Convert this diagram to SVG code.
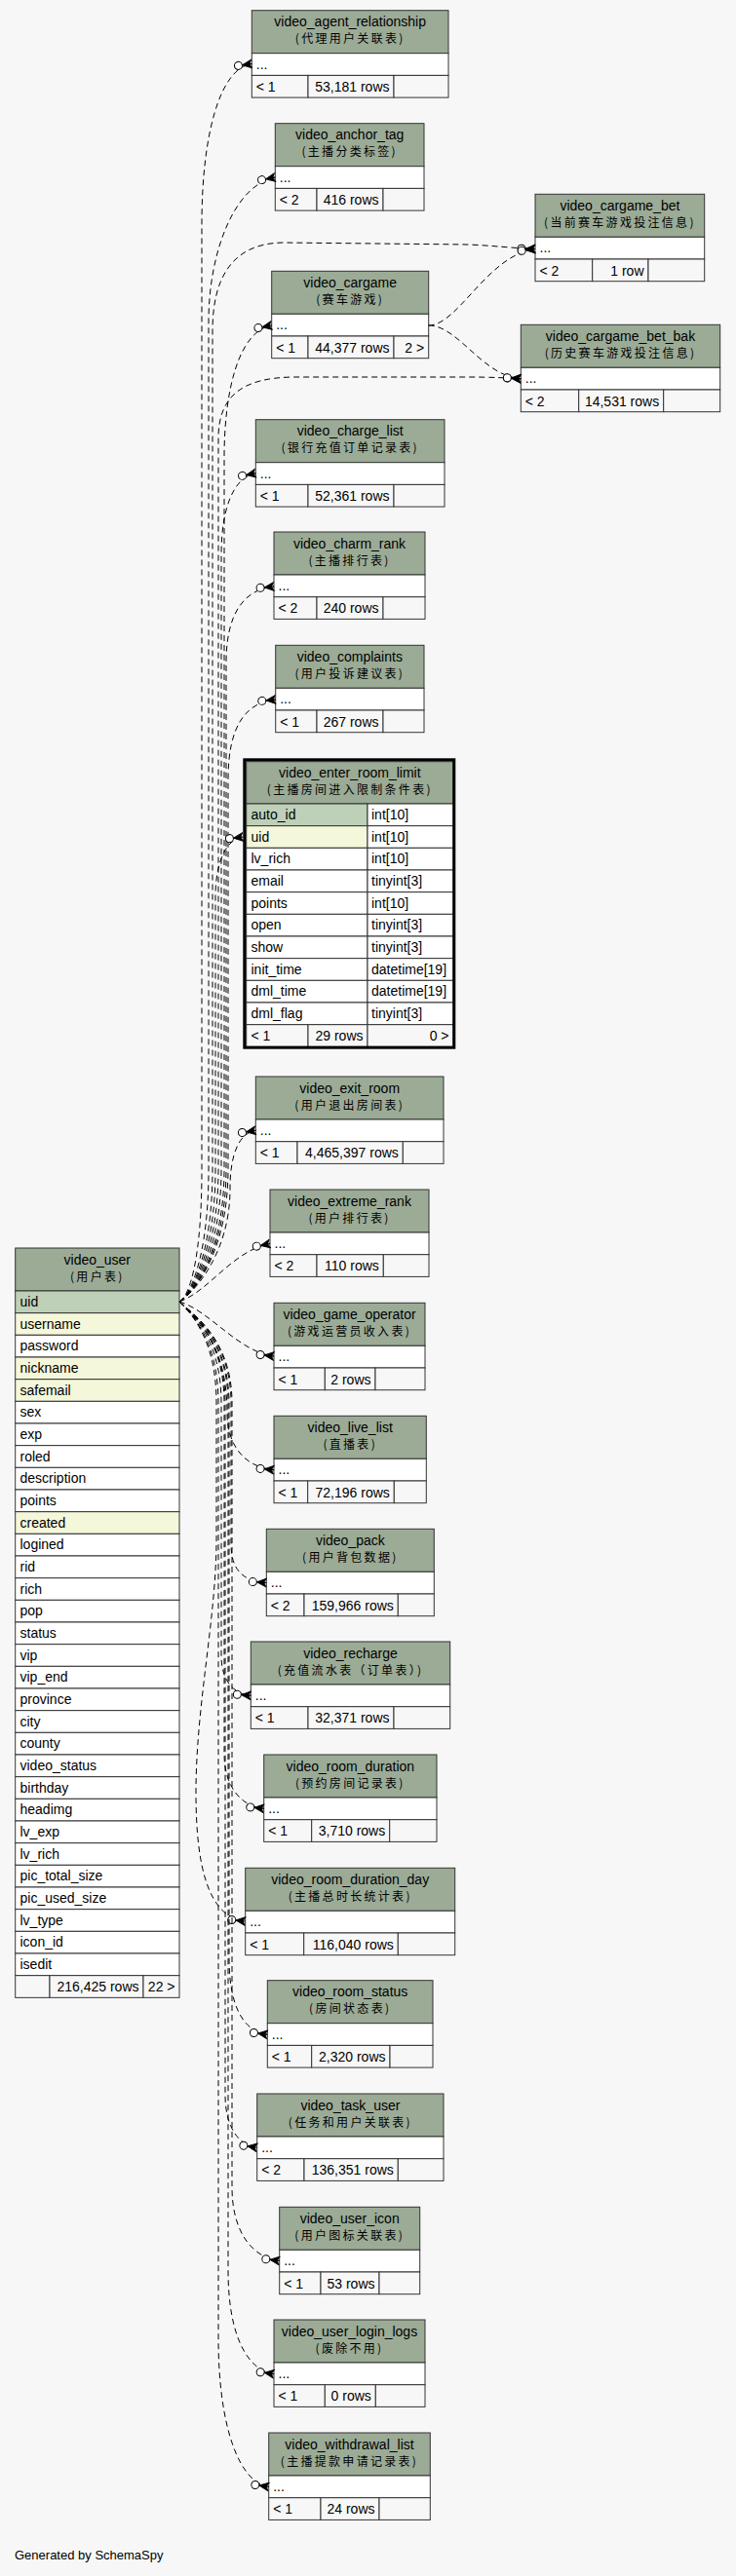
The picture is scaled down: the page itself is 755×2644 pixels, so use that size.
<svg xmlns="http://www.w3.org/2000/svg" width="755" height="2644" viewBox="0 0 755 2644">
<defs>
<style>
.bg{fill:#f7f7f7}
.hdr{fill:#9bab96;stroke:#333;stroke-width:1}
.cell{fill:#fff;stroke:#333;stroke-width:1}
.ft{fill:#f7f7f7;stroke:#333;stroke-width:1}
.pk{fill:#bed1b8;stroke:#333;stroke-width:1}
.ix{fill:#f4f7da;stroke:#333;stroke-width:1}
text{font-family:"Liberation Sans",Arial,sans-serif;font-size:14px;fill:#000}
.ttl{text-anchor:middle}
.cn{font-family:"Noto Sans CJK SC",sans-serif;font-size:12px;letter-spacing:2.3px;text-anchor:middle}
.rt{text-anchor:end}
.edge{fill:none;stroke:#000;stroke-width:1;stroke-dasharray:6,4}
.focus{fill:none;stroke:#000;stroke-width:3}
</style>
<marker id="crowodot" markerUnits="userSpaceOnUse" markerWidth="26" markerHeight="14" viewBox="-21 -7 26 14" refX="0" refY="0" orient="auto" overflow="visible">
<path d="M0,-4.5 L-10,0 L0,4.5 L-2.5,0 Z" fill="#000" stroke="#000" stroke-width="0.8"/>
<path d="M-10,0 L0,0" stroke="#000" stroke-width="1"/>
<circle cx="-14" cy="0" r="4" fill="#fff" stroke="#000" stroke-width="1"/>
</marker>
</defs>
<rect class="bg" x="0" y="0" width="755" height="2644"/>

<g id="video_agent_relationship">
<rect class="hdr" x="258.3" y="10.7" width="201.7" height="44"/>
<text class="ttl" x="359.2" y="27.2">video_agent_relationship</text>
<text class="cn" x="359.2" y="44.2">(代理用户关联表)</text>
<rect class="cell" x="258.3" y="54.7" width="201.7" height="22.7"/>
<text x="262.8" y="70.7">...</text>
<rect class="ft" x="258.3" y="77.4" width="57.7" height="22.7"/>
<rect class="ft" x="316" y="77.4" width="88" height="22.7"/>
<rect class="ft" x="404" y="77.4" width="56" height="22.7"/>
<text x="262.8" y="93.9">&lt; 1</text>
<text class="rt" x="399.5" y="93.9">53,181 rows</text>
</g>

<g id="video_anchor_tag">
<rect class="hdr" x="282.3" y="126.7" width="152.7" height="44"/>
<text class="ttl" x="358.7" y="143.2">video_anchor_tag</text>
<text class="cn" x="358.7" y="160.2">(主播分类标签)</text>
<rect class="cell" x="282.3" y="170.7" width="152.7" height="22.7"/>
<text x="286.8" y="186.7">...</text>
<rect class="ft" x="282.3" y="193.4" width="42.7" height="22.7"/>
<rect class="ft" x="325" y="193.4" width="68" height="22.7"/>
<rect class="ft" x="393" y="193.4" width="42" height="22.7"/>
<text x="286.8" y="209.9">&lt; 2</text>
<text class="rt" x="388.5" y="209.9">416 rows</text>
</g>

<g id="video_cargame_bet">
<rect class="hdr" x="549" y="199.3" width="173.7" height="44"/>
<text class="ttl" x="635.9" y="215.8">video_cargame_bet</text>
<text class="cn" x="635.9" y="232.8">(当前赛车游戏投注信息)</text>
<rect class="cell" x="549" y="243.3" width="173.7" height="22.7"/>
<text x="553.5" y="259.3">...</text>
<rect class="ft" x="549" y="266" width="58.7" height="22.7"/>
<rect class="ft" x="607.7" y="266" width="57.3" height="22.7"/>
<rect class="ft" x="665" y="266" width="57.7" height="22.7"/>
<text x="553.5" y="282.5">&lt; 2</text>
<text class="rt" x="660.5" y="282.5">1 row</text>
</g>

<g id="video_cargame_bet_bak">
<rect class="hdr" x="534.3" y="333.3" width="204.4" height="44"/>
<text class="ttl" x="636.5" y="349.8">video_cargame_bet_bak</text>
<text class="cn" x="636.5" y="366.8">(历史赛车游戏投注信息)</text>
<rect class="cell" x="534.3" y="377.3" width="204.4" height="22.7"/>
<text x="538.8" y="393.3">...</text>
<rect class="ft" x="534.3" y="400" width="59.4" height="22.7"/>
<rect class="ft" x="593.7" y="400" width="87" height="22.7"/>
<rect class="ft" x="680.7" y="400" width="58" height="22.7"/>
<text x="538.8" y="416.5">&lt; 2</text>
<text class="rt" x="676.2" y="416.5">14,531 rows</text>
</g>

<g id="video_cargame">
<rect class="hdr" x="278.7" y="278.3" width="161" height="44"/>
<text class="ttl" x="359.2" y="294.8">video_cargame</text>
<text class="cn" x="359.2" y="311.8">(赛车游戏)</text>
<rect class="cell" x="278.7" y="322.3" width="161" height="22.7"/>
<text x="283.2" y="338.3">...</text>
<rect class="ft" x="278.7" y="345" width="37.3" height="22.7"/>
<rect class="ft" x="316" y="345" width="88" height="22.7"/>
<rect class="ft" x="404" y="345" width="35.7" height="22.7"/>
<text x="283.2" y="361.5">&lt; 1</text>
<text class="rt" x="399.5" y="361.5">44,377 rows</text>
<text class="rt" x="435.2" y="361.5">2 &gt;</text>
</g>

<g id="video_charge_list">
<rect class="hdr" x="262.3" y="430.7" width="193.7" height="44"/>
<text class="ttl" x="359.2" y="447.2">video_charge_list</text>
<text class="cn" x="359.2" y="464.2">(银行充值订单记录表)</text>
<rect class="cell" x="262.3" y="474.7" width="193.7" height="22.7"/>
<text x="266.8" y="490.7">...</text>
<rect class="ft" x="262.3" y="497.4" width="53.7" height="22.7"/>
<rect class="ft" x="316" y="497.4" width="88" height="22.7"/>
<rect class="ft" x="404" y="497.4" width="52" height="22.7"/>
<text x="266.8" y="513.9">&lt; 1</text>
<text class="rt" x="399.5" y="513.9">52,361 rows</text>
</g>

<g id="video_charm_rank">
<rect class="hdr" x="281" y="546" width="155" height="44"/>
<text class="ttl" x="358.5" y="562.5">video_charm_rank</text>
<text class="cn" x="358.5" y="579.5">(主播排行表)</text>
<rect class="cell" x="281" y="590" width="155" height="22.7"/>
<text x="285.5" y="606">...</text>
<rect class="ft" x="281" y="612.7" width="44" height="22.7"/>
<rect class="ft" x="325" y="612.7" width="68" height="22.7"/>
<rect class="ft" x="393" y="612.7" width="43" height="22.7"/>
<text x="285.5" y="629.2">&lt; 2</text>
<text class="rt" x="388.5" y="629.2">240 rows</text>
</g>

<g id="video_complaints">
<rect class="hdr" x="282.7" y="662.3" width="152.3" height="44"/>
<text class="ttl" x="358.8" y="678.8">video_complaints</text>
<text class="cn" x="358.8" y="695.8">(用户投诉建议表)</text>
<rect class="cell" x="282.7" y="706.3" width="152.3" height="22.7"/>
<text x="287.2" y="722.3">...</text>
<rect class="ft" x="282.7" y="729" width="42.3" height="22.7"/>
<rect class="ft" x="325" y="729" width="68" height="22.7"/>
<rect class="ft" x="393" y="729" width="42" height="22.7"/>
<text x="287.2" y="745.5">&lt; 1</text>
<text class="rt" x="388.5" y="745.5">267 rows</text>
</g>

<g id="video_enter_room_limit">
<rect class="hdr" x="252.7" y="781.7" width="212.3" height="43.3"/>
<text class="ttl" x="358.8" y="798">video_enter_room_limit</text>
<text class="cn" x="358.8" y="815">(主播房间进入限制条件表)</text>
<rect class="pk" x="252.7" y="825" width="124.3" height="22.67"/>
<rect class="cell" x="377" y="825" width="88" height="22.67"/>
<text x="257.5" y="841">auto_id</text><text x="381" y="841">int[10]</text>
<rect class="ix" x="252.7" y="847.67" width="124.3" height="22.67"/>
<rect class="cell" x="377" y="847.67" width="88" height="22.67"/>
<text x="257.5" y="863.67">uid</text><text x="381" y="863.67">int[10]</text>
<rect class="cell" x="252.7" y="870.33" width="124.3" height="22.67"/>
<rect class="cell" x="377" y="870.33" width="88" height="22.67"/>
<text x="257.5" y="886.33">lv_rich</text><text x="381" y="886.33">int[10]</text>
<rect class="cell" x="252.7" y="893" width="124.3" height="22.67"/>
<rect class="cell" x="377" y="893" width="88" height="22.67"/>
<text x="257.5" y="909">email</text><text x="381" y="909">tinyint[3]</text>
<rect class="cell" x="252.7" y="915.67" width="124.3" height="22.67"/>
<rect class="cell" x="377" y="915.67" width="88" height="22.67"/>
<text x="257.5" y="931.67">points</text><text x="381" y="931.67">int[10]</text>
<rect class="cell" x="252.7" y="938.33" width="124.3" height="22.67"/>
<rect class="cell" x="377" y="938.33" width="88" height="22.67"/>
<text x="257.5" y="954.33">open</text><text x="381" y="954.33">tinyint[3]</text>
<rect class="cell" x="252.7" y="961" width="124.3" height="22.67"/>
<rect class="cell" x="377" y="961" width="88" height="22.67"/>
<text x="257.5" y="977">show</text><text x="381" y="977">tinyint[3]</text>
<rect class="cell" x="252.7" y="983.67" width="124.3" height="22.67"/>
<rect class="cell" x="377" y="983.67" width="88" height="22.67"/>
<text x="257.5" y="999.67">init_time</text><text x="381" y="999.67">datetime[19]</text>
<rect class="cell" x="252.7" y="1006.33" width="124.3" height="22.67"/>
<rect class="cell" x="377" y="1006.33" width="88" height="22.67"/>
<text x="257.5" y="1022.33">dml_time</text><text x="381" y="1022.33">datetime[19]</text>
<rect class="cell" x="252.7" y="1029" width="124.3" height="22.67"/>
<rect class="cell" x="377" y="1029" width="88" height="22.67"/>
<text x="257.5" y="1045">dml_flag</text><text x="381" y="1045">tinyint[3]</text>
<rect class="ft" x="252.7" y="1051.67" width="63.3" height="22.67"/>
<rect class="ft" x="316" y="1051.67" width="61" height="22.67"/>
<rect class="ft" x="377" y="1051.67" width="88" height="22.67"/>
<text x="257.5" y="1068">&lt; 1</text>
<text class="rt" x="372.5" y="1068">29 rows</text>
<text class="rt" x="460.5" y="1068">0 &gt;</text>
<rect class="focus" x="250.8" y="779.8" width="215" height="295.4"/>
</g>

<g id="video_exit_room">
<rect class="hdr" x="262.3" y="1105" width="192.7" height="44"/>
<text class="ttl" x="358.7" y="1121.5">video_exit_room</text>
<text class="cn" x="358.7" y="1138.5">(用户退出房间表)</text>
<rect class="cell" x="262.3" y="1149" width="192.7" height="22.7"/>
<text x="266.8" y="1165">...</text>
<rect class="ft" x="262.3" y="1171.7" width="42.7" height="22.7"/>
<rect class="ft" x="305" y="1171.7" width="108.3" height="22.7"/>
<rect class="ft" x="413.3" y="1171.7" width="41.7" height="22.7"/>
<text x="266.8" y="1188.2">&lt; 1</text>
<text class="rt" x="408.8" y="1188.2">4,465,397 rows</text>
</g>

<g id="video_extreme_rank">
<rect class="hdr" x="277" y="1221" width="163" height="44"/>
<text class="ttl" x="358.5" y="1237.5">video_extreme_rank</text>
<text class="cn" x="358.5" y="1254.5">(用户排行表)</text>
<rect class="cell" x="277" y="1265" width="163" height="22.7"/>
<text x="281.5" y="1281">...</text>
<rect class="ft" x="277" y="1287.7" width="48" height="22.7"/>
<rect class="ft" x="325" y="1287.7" width="68.3" height="22.7"/>
<rect class="ft" x="393.3" y="1287.7" width="46.7" height="22.7"/>
<text x="281.5" y="1304.2">&lt; 2</text>
<text class="rt" x="388.8" y="1304.2">110 rows</text>
</g>

<g id="video_game_operator">
<rect class="hdr" x="281" y="1337.3" width="155" height="44"/>
<text class="ttl" x="358.5" y="1353.8">video_game_operator</text>
<text class="cn" x="358.5" y="1370.8">(游戏运营员收入表)</text>
<rect class="cell" x="281" y="1381.3" width="155" height="22.7"/>
<text x="285.5" y="1397.3">...</text>
<rect class="ft" x="281" y="1404" width="52.3" height="22.7"/>
<rect class="ft" x="333.3" y="1404" width="51.7" height="22.7"/>
<rect class="ft" x="385" y="1404" width="51" height="22.7"/>
<text x="285.5" y="1420.5">&lt; 1</text>
<text class="rt" x="380.5" y="1420.5">2 rows</text>
</g>

<g id="video_live_list">
<rect class="hdr" x="281" y="1453.3" width="156.3" height="44"/>
<text class="ttl" x="359.2" y="1469.8">video_live_list</text>
<text class="cn" x="359.2" y="1486.8">(直播表)</text>
<rect class="cell" x="281" y="1497.3" width="156.3" height="22.7"/>
<text x="285.5" y="1513.3">...</text>
<rect class="ft" x="281" y="1520" width="34.7" height="22.7"/>
<rect class="ft" x="315.7" y="1520" width="88.6" height="22.7"/>
<rect class="ft" x="404.3" y="1520" width="33" height="22.7"/>
<text x="285.5" y="1536.5">&lt; 1</text>
<text class="rt" x="399.8" y="1536.5">72,196 rows</text>
</g>

<g id="video_pack">
<rect class="hdr" x="273.3" y="1569.3" width="172" height="44"/>
<text class="ttl" x="359.3" y="1585.8">video_pack</text>
<text class="cn" x="359.3" y="1602.8">(用户背包数据)</text>
<rect class="cell" x="273.3" y="1613.3" width="172" height="22.7"/>
<text x="277.8" y="1629.3">...</text>
<rect class="ft" x="273.3" y="1636" width="38.7" height="22.7"/>
<rect class="ft" x="312" y="1636" width="96.3" height="22.7"/>
<rect class="ft" x="408.3" y="1636" width="37" height="22.7"/>
<text x="277.8" y="1652.5">&lt; 2</text>
<text class="rt" x="403.8" y="1652.5">159,966 rows</text>
</g>

<g id="video_recharge">
<rect class="hdr" x="257.3" y="1685" width="204.4" height="44"/>
<text class="ttl" x="359.5" y="1701.5">video_recharge</text>
<text class="cn" x="359.5" y="1718.5">(充值流水表（订单表）)</text>
<rect class="cell" x="257.3" y="1729" width="204.4" height="22.7"/>
<text x="261.8" y="1745">...</text>
<rect class="ft" x="257.3" y="1751.7" width="58.7" height="22.7"/>
<rect class="ft" x="316" y="1751.7" width="88" height="22.7"/>
<rect class="ft" x="404" y="1751.7" width="57.7" height="22.7"/>
<text x="261.8" y="1768.2">&lt; 1</text>
<text class="rt" x="399.5" y="1768.2">32,371 rows</text>
</g>

<g id="video_room_duration">
<rect class="hdr" x="270.7" y="1801" width="177.3" height="44"/>
<text class="ttl" x="359.3" y="1817.5">video_room_duration</text>
<text class="cn" x="359.3" y="1834.5">(预约房间记录表)</text>
<rect class="cell" x="270.7" y="1845" width="177.3" height="22.7"/>
<text x="275.2" y="1861">...</text>
<rect class="ft" x="270.7" y="1867.7" width="49" height="22.7"/>
<rect class="ft" x="319.7" y="1867.7" width="80" height="22.7"/>
<rect class="ft" x="399.7" y="1867.7" width="48.3" height="22.7"/>
<text x="275.2" y="1884.2">&lt; 1</text>
<text class="rt" x="395.2" y="1884.2">3,710 rows</text>
</g>

<g id="video_room_duration_day">
<rect class="hdr" x="251.7" y="1917.3" width="215" height="44"/>
<text class="ttl" x="359.2" y="1933.8">video_room_duration_day</text>
<text class="cn" x="359.2" y="1950.8">(主播总时长统计表)</text>
<rect class="cell" x="251.7" y="1961.3" width="215" height="22.7"/>
<text x="256.2" y="1977.3">...</text>
<rect class="ft" x="251.7" y="1984" width="60" height="22.7"/>
<rect class="ft" x="311.7" y="1984" width="96.6" height="22.7"/>
<rect class="ft" x="408.3" y="1984" width="58.4" height="22.7"/>
<text x="256.2" y="2000.5">&lt; 1</text>
<text class="rt" x="403.8" y="2000.5">116,040 rows</text>
</g>

<g id="video_room_status">
<rect class="hdr" x="274.3" y="2032.7" width="169.7" height="44"/>
<text class="ttl" x="359.2" y="2049.2">video_room_status</text>
<text class="cn" x="359.2" y="2066.2">(房间状态表)</text>
<rect class="cell" x="274.3" y="2076.7" width="169.7" height="22.7"/>
<text x="278.8" y="2092.7">...</text>
<rect class="ft" x="274.3" y="2099.4" width="45.4" height="22.7"/>
<rect class="ft" x="319.7" y="2099.4" width="80.3" height="22.7"/>
<rect class="ft" x="400" y="2099.4" width="44" height="22.7"/>
<text x="278.8" y="2115.9">&lt; 1</text>
<text class="rt" x="395.5" y="2115.9">2,320 rows</text>
</g>

<g id="video_task_user">
<rect class="hdr" x="263.7" y="2149" width="191.3" height="44"/>
<text class="ttl" x="359.4" y="2165.5">video_task_user</text>
<text class="cn" x="359.4" y="2182.5">(任务和用户关联表)</text>
<rect class="cell" x="263.7" y="2193" width="191.3" height="22.7"/>
<text x="268.2" y="2209">...</text>
<rect class="ft" x="263.7" y="2215.7" width="48.3" height="22.7"/>
<rect class="ft" x="312" y="2215.7" width="96.3" height="22.7"/>
<rect class="ft" x="408.3" y="2215.7" width="46.7" height="22.7"/>
<text x="268.2" y="2232.2">&lt; 2</text>
<text class="rt" x="403.8" y="2232.2">136,351 rows</text>
</g>

<g id="video_user_icon">
<rect class="hdr" x="286.7" y="2265.3" width="144" height="44"/>
<text class="ttl" x="358.7" y="2281.8">video_user_icon</text>
<text class="cn" x="358.7" y="2298.8">(用户图标关联表)</text>
<rect class="cell" x="286.7" y="2309.3" width="144" height="22.7"/>
<text x="291.2" y="2325.3">...</text>
<rect class="ft" x="286.7" y="2332" width="42.3" height="22.7"/>
<rect class="ft" x="329" y="2332" width="60" height="22.7"/>
<rect class="ft" x="389" y="2332" width="41.7" height="22.7"/>
<text x="291.2" y="2348.5">&lt; 1</text>
<text class="rt" x="384.5" y="2348.5">53 rows</text>
</g>

<g id="video_user_login_logs">
<rect class="hdr" x="281" y="2381" width="155" height="44"/>
<text class="ttl" x="358.5" y="2397.5">video_user_login_logs</text>
<text class="cn" x="358.5" y="2414.5">(废除不用)</text>
<rect class="cell" x="281" y="2425" width="155" height="22.7"/>
<text x="285.5" y="2441">...</text>
<rect class="ft" x="281" y="2447.7" width="52.3" height="22.7"/>
<rect class="ft" x="333.3" y="2447.7" width="52" height="22.7"/>
<rect class="ft" x="385.3" y="2447.7" width="50.7" height="22.7"/>
<text x="285.5" y="2464.2">&lt; 1</text>
<text class="rt" x="380.8" y="2464.2">0 rows</text>
</g>

<g id="video_withdrawal_list">
<rect class="hdr" x="275.7" y="2497" width="165.6" height="44"/>
<text class="ttl" x="358.5" y="2513.5">video_withdrawal_list</text>
<text class="cn" x="358.5" y="2530.5">(主播提款申请记录表)</text>
<rect class="cell" x="275.7" y="2541" width="165.6" height="22.7"/>
<text x="280.2" y="2557">...</text>
<rect class="ft" x="275.7" y="2563.7" width="53.3" height="22.7"/>
<rect class="ft" x="329" y="2563.7" width="60" height="22.7"/>
<rect class="ft" x="389" y="2563.7" width="52.3" height="22.7"/>
<text x="280.2" y="2580.2">&lt; 1</text>
<text class="rt" x="384.5" y="2580.2">24 rows</text>
</g>

<g id="video_user">
<rect class="hdr" x="15.7" y="1281" width="168.3" height="44"/>
<text class="ttl" x="99.8" y="1297.5">video_user</text>
<text class="cn" x="99.8" y="1314.5">(用户表)</text>
<rect class="pk" x="15.7" y="1325" width="168.3" height="22.67"/><text x="20.5" y="1341">uid</text>
<rect class="ix" x="15.7" y="1347.67" width="168.3" height="22.67"/><text x="20.5" y="1363.67">username</text>
<rect class="cell" x="15.7" y="1370.33" width="168.3" height="22.67"/><text x="20.5" y="1386.33">password</text>
<rect class="ix" x="15.7" y="1393" width="168.3" height="22.67"/><text x="20.5" y="1409">nickname</text>
<rect class="ix" x="15.7" y="1415.67" width="168.3" height="22.67"/><text x="20.5" y="1431.67">safemail</text>
<rect class="cell" x="15.7" y="1438.33" width="168.3" height="22.67"/><text x="20.5" y="1454.33">sex</text>
<rect class="cell" x="15.7" y="1461" width="168.3" height="22.67"/><text x="20.5" y="1477">exp</text>
<rect class="cell" x="15.7" y="1483.67" width="168.3" height="22.67"/><text x="20.5" y="1499.67">roled</text>
<rect class="cell" x="15.7" y="1506.33" width="168.3" height="22.67"/><text x="20.5" y="1522.33">description</text>
<rect class="cell" x="15.7" y="1529" width="168.3" height="22.67"/><text x="20.5" y="1545">points</text>
<rect class="ix" x="15.7" y="1551.67" width="168.3" height="22.67"/><text x="20.5" y="1567.67">created</text>
<rect class="cell" x="15.7" y="1574.33" width="168.3" height="22.67"/><text x="20.5" y="1590.33">logined</text>
<rect class="cell" x="15.7" y="1597" width="168.3" height="22.67"/><text x="20.5" y="1613">rid</text>
<rect class="cell" x="15.7" y="1619.67" width="168.3" height="22.67"/><text x="20.5" y="1635.67">rich</text>
<rect class="cell" x="15.7" y="1642.33" width="168.3" height="22.67"/><text x="20.5" y="1658.33">pop</text>
<rect class="cell" x="15.7" y="1665" width="168.3" height="22.67"/><text x="20.5" y="1681">status</text>
<rect class="cell" x="15.7" y="1687.67" width="168.3" height="22.67"/><text x="20.5" y="1703.67">vip</text>
<rect class="cell" x="15.7" y="1710.33" width="168.3" height="22.67"/><text x="20.5" y="1726.33">vip_end</text>
<rect class="cell" x="15.7" y="1733" width="168.3" height="22.67"/><text x="20.5" y="1749">province</text>
<rect class="cell" x="15.7" y="1755.67" width="168.3" height="22.67"/><text x="20.5" y="1771.67">city</text>
<rect class="cell" x="15.7" y="1778.33" width="168.3" height="22.67"/><text x="20.5" y="1794.33">county</text>
<rect class="cell" x="15.7" y="1801" width="168.3" height="22.67"/><text x="20.5" y="1817">video_status</text>
<rect class="cell" x="15.7" y="1823.67" width="168.3" height="22.67"/><text x="20.5" y="1839.67">birthday</text>
<rect class="cell" x="15.7" y="1846.33" width="168.3" height="22.67"/><text x="20.5" y="1862.33">headimg</text>
<rect class="cell" x="15.7" y="1869" width="168.3" height="22.67"/><text x="20.5" y="1885">lv_exp</text>
<rect class="cell" x="15.7" y="1891.67" width="168.3" height="22.67"/><text x="20.5" y="1907.67">lv_rich</text>
<rect class="cell" x="15.7" y="1914.33" width="168.3" height="22.67"/><text x="20.5" y="1930.33">pic_total_size</text>
<rect class="cell" x="15.7" y="1937" width="168.3" height="22.67"/><text x="20.5" y="1953">pic_used_size</text>
<rect class="cell" x="15.7" y="1959.67" width="168.3" height="22.67"/><text x="20.5" y="1975.67">lv_type</text>
<rect class="cell" x="15.7" y="1982.33" width="168.3" height="22.67"/><text x="20.5" y="1998.33">icon_id</text>
<rect class="cell" x="15.7" y="2005" width="168.3" height="22.67"/><text x="20.5" y="2021">isedit</text>
<rect class="ft" x="15.7" y="2027.67" width="35.3" height="22.67"/>
<rect class="ft" x="51" y="2027.67" width="96" height="22.67"/>
<rect class="ft" x="147" y="2027.67" width="37" height="22.67"/>
<text class="rt" x="142.5" y="2044.2">216,425 rows</text>
<text class="rt" x="179.5" y="2044.2">22 &gt;</text>
</g>

<g id="connectors">
<path class="edge" marker-end="url(#crowodot)" d="M184,1336 C195,1330 207,1290 207,1200 L207,230 C207,140 225,70 258.3,65.5"/>
<path class="edge" marker-end="url(#crowodot)" d="M184,1336 C195,1330 214,1290 214,1200 L214,330 C214,260 240,190 282.3,182"/>
<path class="edge" marker-end="url(#crowodot)" d="M184,1336 C195,1330 218,1290 218,1200 L218,340 C218,285 238,250 290,249 L480,251 C505,252 530,255 549,255.5"/>
<path class="edge" marker-end="url(#crowodot)" d="M184,1336 C195,1330 230,1290 230,1200 L230,470 C230,400 245,340 278.7,334"/>
<path class="edge" marker-end="url(#crowodot)" d="M184,1336 C195,1330 224,1290 224,1200 L224,450 C224,405 250,388 300,387 L480,387 C505,387 520,388 534.3,388.7"/>
<path class="edge" marker-end="url(#crowodot)" d="M184,1336 C195,1330 227,1290 227,1200 L227,570 C227,520 240,490 262.3,485.7"/>
<path class="edge" marker-end="url(#crowodot)" d="M184,1336 C195,1330 232,1290 232,1200 L232,680 C232,630 250,605 281,602"/>
<path class="edge" marker-end="url(#crowodot)" d="M184,1336 C195,1330 234,1290 234,1200 L234,800 C234,745 252,721 282.7,718"/>
<path class="edge" marker-end="url(#crowodot)" d="M184,1336 C195,1330 221,1290 221,1200 L221,920 C221,885 232,861 249.3,859"/>
<path class="edge" marker-end="url(#crowodot)" d="M184,1336 C195,1330 236,1290 236,1220 C236,1185 245,1163 262.3,1160.3"/>
<path class="edge" marker-end="url(#crowodot)" d="M184,1336 C215,1325 238,1284 277,1276.5"/>
<path class="edge" marker-end="url(#crowodot)" d="M184,1336 C215,1345 245,1388 281,1392"/>
<path class="edge" marker-end="url(#crowodot)" d="M184,1336 C192,1345 233,1370 233,1450 C233,1485 252,1506 281,1508.7"/>
<path class="edge" marker-end="url(#crowodot)" d="M184,1336 C192,1345 237,1370 237,1440 L237,1585 C237,1612 250,1623 273.3,1624.5"/>
<path class="edge" marker-end="url(#crowodot)" d="M184,1336 C192,1345 227,1370 227,1440 L227,1700 C227,1725 240,1739 257.3,1740.3"/>
<path class="edge" marker-end="url(#crowodot)" d="M184,1336 C192,1345 230,1370 230,1440 L230,1800 C230,1835 248,1854 270.7,1856.3"/>
<path class="edge" marker-end="url(#crowodot)" d="M184,1336 C192,1345 222,1370 222,1440 L222,1580 C222,1660 201,1750 201,1840 C201,1920 215,1968 251.7,1972"/>
<path class="edge" marker-end="url(#crowodot)" d="M184,1336 C192,1345 235,1370 235,1440 L235,2010 C235,2060 250,2085 274.3,2088.3"/>
<path class="edge" marker-end="url(#crowodot)" d="M184,1336 C192,1345 231,1370 231,1440 L231,2150 C231,2180 242,2201 263.7,2204.3"/>
<path class="edge" marker-end="url(#crowodot)" d="M184,1336 C192,1345 238,1370 238,1440 L238,2245 C238,2290 258,2317 286.7,2320.5"/>
<path class="edge" marker-end="url(#crowodot)" d="M184,1336 C192,1345 234,1370 234,1440 L234,2330 C234,2400 255,2433 281,2436.7"/>
<path class="edge" marker-end="url(#crowodot)" d="M184,1336 C192,1345 224,1370 224,1440 L224,2400 C224,2490 245,2548 275.7,2552.5"/>
<path class="edge" marker-end="url(#crowodot)" d="M439.7,334 C470,334 500,262 549,255.5"/>
<path class="edge" marker-end="url(#crowodot)" d="M439.7,334 C470,334 495,386 534.3,388.7"/>
</g>

<text x="15" y="2627" style="font-size:13px">Generated by SchemaSpy</text>
</svg>
